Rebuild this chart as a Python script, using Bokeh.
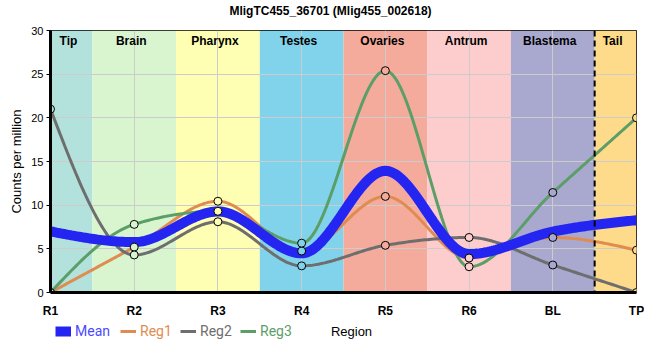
import numpy as np
from bokeh.plotting import figure
from bokeh.layouts import column
from bokeh.models import (Range1d, FixedTicker, SingleIntervalTicker, Span, Legend,
                          LegendItem, ColumnDataSource)
from bokeh.core.properties import value
from bokeh.embed import file_html
from bokeh.resources import INLINE

# ---------------- data ----------------
regions = ["R1", "R2", "R3", "R4", "R5", "R6", "BL", "TP"]
bands = ["Tip", "Brain", "Pharynx", "Testes", "Ovaries", "Antrum", "Blastema", "Tail"]
band_colors = ["#b3e2dd", "#d8f5d0", "#ffffb3", "#80d3ea", "#f4ab9c", "#fdcccd", "#a9a8cf", "#fddb8a"]
mean_vals = [7.0, 5.77, 9.28, 4.48, 13.93, 4.40, 6.97, 8.28]
reg1 = [0.0, 5.2, 10.45, 4.75, 11.0, 3.95, 6.3, 4.85]
reg2 = [21.0, 4.3, 8.1, 3.05, 5.4, 6.3, 3.15, 0.0]
reg3 = [0.0, 7.8, 9.3, 5.65, 25.4, 2.95, 11.45, 20.0]
series_names = ["Mean", "Reg1", "Reg2", "Reg3"]
y_max = 30

title = "MligTC455_36701 (Mlig455_002618)"
x_label = "Region"
y_label = "Counts per million"
FONT = "Liberation Sans"


# ---------------- monotone cubic (d3 curveMonotoneX) ----------------
def _sign(v):
    return -1.0 if v < 0 else 1.0


def monotone_curve(xs, ys, n=40):
    xs = np.asarray(xs, float)
    ys = np.asarray(ys, float)
    m = len(xs)
    t = np.zeros(m)
    for i in range(1, m - 1):
        h0 = xs[i] - xs[i - 1]
        h1 = xs[i + 1] - xs[i]
        s0 = (ys[i] - ys[i - 1]) / h0
        s1 = (ys[i + 1] - ys[i]) / h1
        pp = (s0 * h1 + s1 * h0) / (h0 + h1)
        t[i] = (_sign(s0) + _sign(s1)) * min(abs(s0), abs(s1), 0.5 * abs(pp))
    h = xs[1] - xs[0]
    t[0] = (3 * (ys[1] - ys[0]) / h - t[1]) / 2
    h = xs[-1] - xs[-2]
    t[-1] = (3 * (ys[-1] - ys[-2]) / h - t[-2]) / 2
    out_x, out_y = [], []
    for i in range(m - 1):
        x0, x1 = xs[i], xs[i + 1]
        y0, y1 = ys[i], ys[i + 1]
        dx = x1 - x0
        u = np.linspace(0, 1, n, endpoint=(i == m - 2))
        h00 = 2 * u**3 - 3 * u**2 + 1
        h10 = u**3 - 2 * u**2 + u
        h01 = -2 * u**3 + 3 * u**2
        h11 = u**3 - u**2
        out_x.extend(x0 + u * dx)
        out_y.extend(h00 * y0 + h10 * dx * t[i] + h01 * y1 + h11 * dx * t[i + 1])
    return out_x, out_y


xi = list(range(len(regions)))
n_last = len(regions) - 1

W = 644
BL, BR = 50, 8   # left / right borders shared by all rows


def strip(height):
    f = figure(width=W, height=height, x_range=Range1d(BL, W - BR), y_range=Range1d(0, height),
               output_backend="svg", toolbar_location=None, x_axis_type=None, y_axis_type=None,
               min_border_left=BL, min_border_right=BR, min_border_top=0, min_border_bottom=0)
    f.outline_line_color = None
    f.xgrid.visible = False
    f.ygrid.visible = False
    return f


# ---------------- title row ----------------
TH = 22
tfig = strip(TH)
tfig.text(x=[330], y=[TH - 10], text=[title], text_align="center", text_baseline="middle",
          text_font=value(FONT), text_font_size="12px", text_font_style="bold",
          text_color="black")

# ---------------- main figure ----------------
p = figure(width=W, height=298, x_range=Range1d(0, n_last), y_range=Range1d(0, y_max),
           output_backend="svg", toolbar_location=None,
           min_border_left=BL, min_border_right=BR, min_border_top=8, min_border_bottom=20)
p.background_fill_color = "white"
p.outline_line_color = "black"
p.outline_line_width = 1
p.outline_line_alpha = 1

# background bands
band_src = ColumnDataSource(dict(
    left=[max(i - 0.5, 0) for i in xi],
    right=[min(i + 0.5, n_last) for i in xi],
    color=band_colors,
    name=bands,
    cx=[(max(i - 0.5, 0) + min(i + 0.5, n_last)) / 2 for i in xi],
    top=[y_max] * len(xi),
))
qr = p.quad(left="left", right="right", bottom=0, top="top", fill_color="color",
            line_color=None, source=band_src)
qr.level = "image"

p.text(x="cx", y="top", text="name", source=band_src, text_align="center",
       text_baseline="top", y_offset=3, x_offset=-3, text_font=value(FONT),
       text_font_size="12px", text_font_style="bold", text_color="black")

# dashed separator before Tail
p.add_layout(Span(location=n_last - 0.5, dimension="height", line_color="black",
                  line_width=2, line_dash="6 4"))

# grid
p.xgrid.ticker = FixedTicker(ticks=xi)
p.xgrid.grid_line_color = "#cccccc"
p.ygrid.grid_line_color = "#cccccc"

# series
c_mean = "#2525f2"
c1 = "#e08c50"
c2 = "#6e6e6e"
c3 = "#5c9e68"
colors = {"Mean": c_mean, "Reg1": c1, "Reg2": c2, "Reg3": c3}
widths = {"Mean": 10, "Reg1": 3, "Reg2": 3, "Reg3": 3}

for name, vals in [("Reg1", reg1), ("Reg2", reg2), ("Reg3", reg3)]:
    cx, cy = monotone_curve(xi, vals)
    p.line(cx, cy, line_color=colors[name], line_width=widths[name])

mx, my = monotone_curve(xi, mean_vals)
p.line(mx, my, line_color=c_mean, line_width=widths["Mean"])

for vals in [reg1, reg2, reg3]:
    p.scatter(xi, vals, size=8, marker="circle", fill_color=band_colors,
              line_color="black", line_width=1)

# axes
p.xaxis.ticker = FixedTicker(ticks=xi)
p.xaxis.major_label_overrides = {i: r for i, r in zip(xi, regions)}
p.yaxis.axis_label = y_label
p.yaxis.ticker = SingleIntervalTicker(interval=5)
for ax in (p.xaxis, p.yaxis):
    ax.axis_line_width = 3
    ax.axis_line_color = "black"
    ax.minor_tick_line_color = None
    ax.axis_label_text_font = FONT
    ax.axis_label_text_font_size = "13px"
    ax.axis_label_text_font_style = "normal"
    ax.axis_label_text_color = "black"
    ax.major_label_text_font = FONT
    ax.major_label_text_color = "black"
p.xaxis.major_tick_line_color = None
p.xaxis.major_label_text_font_size = "12px"
p.xaxis.major_label_text_font_style = "bold"
p.xaxis.major_label_standoff = 5
p.yaxis.major_tick_out = 4
p.yaxis.major_tick_in = 0
p.yaxis.major_tick_line_color = "black"
p.yaxis.major_label_text_font_size = "11px"
p.yaxis.major_label_standoff = 3
p.yaxis.axis_label_standoff = 4

# ---------------- legend / x-label row ----------------
H2 = 24
q = strip(H2)
legend_x = {"Mean": 55, "Reg1": 120, "Reg2": 180, "Reg3": 240}
text_colors = {"Mean": "#4a4aff", "Reg1": c1, "Reg2": c2, "Reg3": c3}
for name in series_names:
    r = q.line([np.nan], [np.nan], line_color=colors[name], line_width=widths[name])
    leg = Legend(items=[LegendItem(label=name, renderers=[r])],
                 location=(legend_x[name] - BL, 3), orientation="horizontal",
                 background_fill_alpha=0, border_line_color=None,
                 label_text_color=text_colors[name], label_text_font="Roboto",
                 label_text_font_size="14px", glyph_width=16, glyph_height=20,
                 label_standoff=4, padding=0, margin=0, spacing=0)
    q.add_layout(leg)

q.text(x=[351], y=[H2 - 11], text=[x_label], text_align="center", text_baseline="middle",
       text_font=value(FONT), text_font_size="13px", text_color="black")

layout = column(tfig, p, q, spacing=0)
open("out.html", "w").write(file_html(layout, INLINE))
